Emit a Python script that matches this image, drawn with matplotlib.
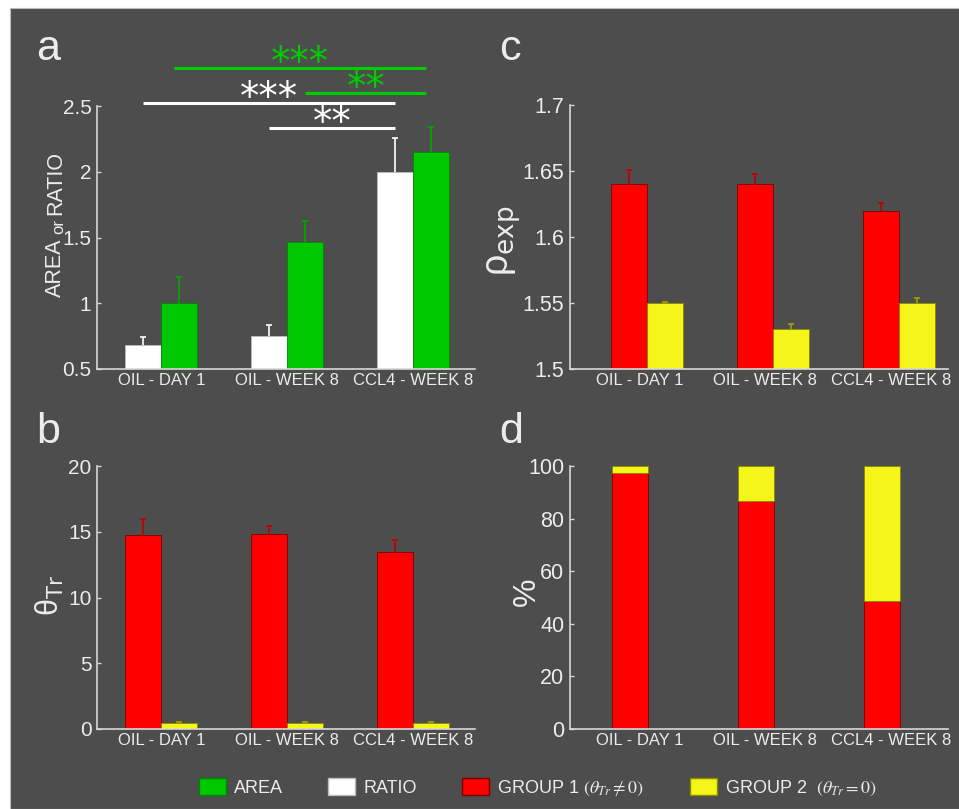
import matplotlib
matplotlib.use("Agg")
import matplotlib.pyplot as plt
from matplotlib.patches import Patch, Rectangle
import numpy as np

plt.rcParams['font.family'] = ['Liberation Sans', 'DejaVu Sans']

# data
groups = ["OIL - DAY 1", "OIL - WEEK 8", "CCL4 - WEEK 8"]

ratio = [0.68, 0.75, 2.00]
ratio_err = [0.06, 0.085, 0.255]
area = [1.00, 1.465, 2.15]
area_err = [0.20, 0.16, 0.19]

theta_g1 = [14.75, 14.83, 13.46]
theta_g1_err = [1.25, 0.62, 0.94]
theta_g2 = [0.45, 0.45, 0.45]
theta_g2_err = [0.05, 0.05, 0.05]

rho_g1 = [1.640, 1.640, 1.620]
rho_g1_err = [0.011, 0.008, 0.006]
rho_g2 = [1.550, 1.530, 1.550]
rho_g2_err = [0.0005, 0.004, 0.004]

pct_g1 = [97.3, 86.7, 48.7]
pct_g2 = [100 - v for v in pct_g1]

BG = '#4d4d4d'
FG = '#ececec'
SPINE = '#d8d8d8'
GREEN = '#00c800'
RED = '#ff0000'
YELLOW = '#f5f51a'

W, H = 959, 809
fig = plt.figure(figsize=(W / 100, H / 100), dpi=100, facecolor='white')
fig.patches.append(Rectangle((10 / W, 0), 1, 1 - 8 / H, transform=fig.transFigure,
                             facecolor=BG, edgecolor='#bbbbbb', lw=0.8, zorder=-10))


def px_axes(left, top, right, bottom):
    return fig.add_axes([left / W, 1 - bottom / H, (right - left) / W, (bottom - top) / H])


def style(ax, ticks, ylim, xlim, size, shift=0.0):
    ax.set_facecolor(BG)
    for s in ['top', 'right']:
        ax.spines[s].set_visible(False)
    for s in ['left', 'bottom']:
        ax.spines[s].set_color(SPINE)
        ax.spines[s].set_linewidth(1.2)
    ax.set_ylim(*ylim)
    ax.set_xlim(*xlim)
    ax.set_yticks(ticks)
    ax.set_yticklabels([f"{t:g}" for t in ticks])
    ax.set_xticks(np.arange(1, 4) + shift)
    ax.set_xticklabels(groups)
    ax.tick_params(axis='y', direction='in', length=3, width=1, color=SPINE,
                   labelcolor=FG, labelsize=size, pad=4)
    ax.tick_params(axis='x', length=0, labelcolor=FG, labelsize=12, pad=3)


x = np.arange(1, 4)
w = 0.286
eb = dict(capsize=2.5, elinewidth=1.2, capthick=1.2, ls='none', zorder=1)

# panel a
ax_a = px_axes(97, 106, 475, 369)
ax_a.bar(x, ratio, width=-w, align='edge', color='white', edgecolor='#bbbbbb', lw=0.6, zorder=2)
ax_a.bar(x, area, width=w, align='edge', color=GREEN, edgecolor='#008800', lw=0.6, zorder=2)
ax_a.errorbar(x - w / 2, ratio, yerr=ratio_err, color='white', **eb)
ax_a.errorbar(x + w / 2, area, yerr=area_err, color='#00a800', **eb)
style(ax_a, [0.5, 1, 1.5, 2, 2.5], (0.5, 2.5), (0.49, 3.49), 15)

# significance brackets
sig = [(x[0] - w / 2, x[2] - w / 2, 2.52, '***', 'white'),
       (x[1] - w / 2, x[2] - w / 2, 2.33, '**', 'white'),
       (x[0] + w / 2 - 0.04, x[2] + w / 2 - 0.04, 2.79, '***', '#00cc00'),
       (x[1] + w / 2, x[2] + w / 2 - 0.04, 2.60, '**', '#00cc00')]
for x1, x2, yy, lab, col in sig:
    ax_a.plot([x1, x2], [yy, yy], color=col, lw=2.2, clip_on=False, solid_capstyle='butt')
    ax_a.annotate(lab, xy=((x1 + x2) / 2, yy), xytext=(0, -10), textcoords='offset points',
                  ha='center', va='bottom', color=col, fontsize=28, family='DejaVu Sans',
                  annotation_clip=False)

# y label "AREA or RATIO"
t1 = ax_a.text(-0.082, 0.275, 'AREA', transform=ax_a.transAxes, rotation=90,
               ha='right', va='bottom', color=FG, fontsize=15.5)
t2 = ax_a.annotate('or', xy=(1, 1), xycoords=t1, xytext=(0, 3), textcoords='offset points',
                   rotation=90, ha='right', va='bottom', color=FG, fontsize=12)
t3 = ax_a.annotate('RATIO', xy=(1, 1), xycoords=t2, xytext=(0, 3), textcoords='offset points',
                   rotation=90, ha='right', va='bottom', color=FG, fontsize=15.5)

# panel b
ax_b = px_axes(97, 466, 475, 729)
ax_b.bar(x, theta_g1, width=-w, align='edge', color=RED, edgecolor='#7a0000', lw=0.6, zorder=2)
ax_b.bar(x, theta_g2, width=w, align='edge', color=YELLOW, edgecolor='#8a8a00', lw=0.6, zorder=2)
ax_b.errorbar(x - w / 2, theta_g1, yerr=theta_g1_err, color='#c00000', **eb)
ax_b.errorbar(x + w / 2, theta_g2, yerr=theta_g2_err, color='#a0a000', **eb)
style(ax_b, [0, 5, 10, 15, 20], (0, 20), (0.49, 3.49), 15)
ax_b.set_ylabel('θ$_{\\mathsf{Tr}}$', color=FG, fontsize=22, math_fontfamily='dejavusans')
ax_b.yaxis.set_label_coords(-0.082, 0.506)

# panel c
ax_c = px_axes(570, 105, 948, 369)
ax_c.bar(x, rho_g1, width=-w, align='edge', color=RED, edgecolor='#7a0000', lw=0.6, zorder=2)
ax_c.bar(x, rho_g2, width=w, align='edge', color=YELLOW, edgecolor='#8a8a00', lw=0.6, zorder=2)
ax_c.errorbar(x - w / 2, rho_g1, yerr=rho_g1_err, color='#c00000', **eb)
ax_c.errorbar(x + w / 2, rho_g2, yerr=rho_g2_err, color='#a0a000', **eb)
style(ax_c, [1.5, 1.55, 1.6, 1.65, 1.7], (1.5, 1.7), (0.39, 3.39), 15.5, shift=-0.06)
ax_c.set_ylabel('ρ$_{\\mathsf{exp}}$', color=FG, fontsize=27, math_fontfamily='dejavusans')
ax_c.yaxis.set_label_coords(-0.125, 0.485)

# panel d
ax_d = px_axes(570, 466, 948, 729)
ax_d.bar(x - 0.13, pct_g1, width=w, color=RED, edgecolor='#7a0000', lw=0.6, zorder=2)
ax_d.bar(x - 0.13, pct_g2, width=w, bottom=pct_g1, color=YELLOW, edgecolor='#8a8a00',
         lw=0.6, zorder=2)
style(ax_d, [0, 20, 40, 60, 80, 100], (0, 100), (0.39, 3.39), 15.5, shift=-0.06)
ax_d.set_ylabel('%', color=FG, fontsize=23)
ax_d.yaxis.set_label_coords(-0.075, 0.52)

# panel letters
for lab, px, py in [('a', 36, 60), ('b', 36, 443), ('c', 499, 60), ('d', 499, 443)]:
    fig.text(px / W, 1 - py / H, lab, color=FG, fontsize=31, ha='left', va='baseline')

# legend
handles = [Patch(facecolor=GREEN, edgecolor='#008800'),
           Patch(facecolor='white', edgecolor='#bbbbbb'),
           Patch(facecolor=RED, edgecolor='#7a0000'),
           Patch(facecolor=YELLOW, edgecolor='#8a8a00')]
labels = ['AREA', 'RATIO', 'GROUP 1 $(\\theta_{Tr} \\neq 0)$', 'GROUP 2  $(\\theta_{Tr} = 0)$']
leg = fig.legend(handles, labels, loc='center', bbox_to_anchor=(0.561, 1 - 788 / H), ncol=4,
                 frameon=False, fontsize=13, handlelength=1.5, handleheight=1.1,
                 handletextpad=0.45, columnspacing=2.5, labelcolor=FG)
for t in leg.get_texts():
    t.set_math_fontfamily('stix')

fig.savefig('out.png', dpi=100, facecolor=fig.get_facecolor())
